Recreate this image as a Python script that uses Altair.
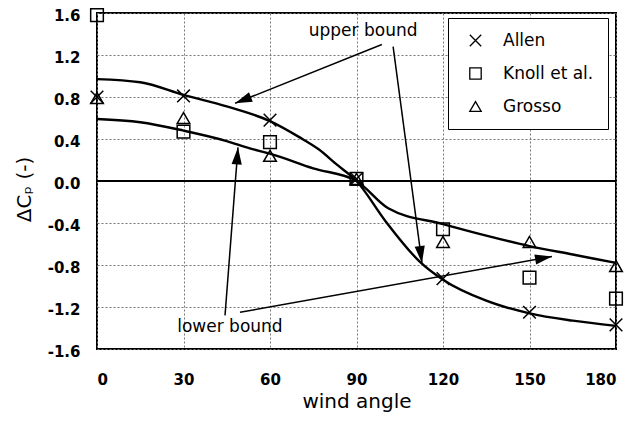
import math
import altair as alt
import pandas as pd

# ---- data ----
angles = [0, 30, 60, 90, 120, 150, 180]
allen = [0.80, 0.81, 0.58, 0.02, -0.93, -1.25, -1.37]
knoll = [1.58, 0.47, 0.37, 0.02, -0.46, -0.92, -1.12]
grosso = [0.79, 0.60, 0.24, 0.02, -0.58, -0.58, -0.81]
series_names = ["Allen", "Knoll et al.", "Grosso"]

upper_x = [0, 15, 30, 45, 60, 70, 77, 83, 90, 100, 112, 120, 135, 150, 165, 180]
upper_y = [0.97, 0.94, 0.82, 0.71, 0.57, 0.42, 0.30, 0.16, 0.0, -0.38, -0.77, -0.94, -1.14, -1.26, -1.33, -1.38]
lower_x = [0, 15, 30, 45, 53, 60, 75, 90, 101, 120, 135, 150, 165, 180]
lower_y = [0.59, 0.56, 0.48, 0.38, 0.31, 0.26, 0.12, 0.0, -0.26, -0.41, -0.52, -0.62, -0.70, -0.78]

label_text = ["upper bound", "lower bound"]
label_x = [92.3, 46.1]
label_y = [1.43, -1.39]

arrow_x1 = [98.8, 102.7, 44.4, 49.6]
arrow_y1 = [1.30, 1.28, -1.28, -1.25]
arrow_x2 = [47.9, 112.7, 48.9, 157.8]
arrow_y2 = [0.74, -0.78, 0.32, -0.72]

y_ticks = [-1.6, -1.2, -0.8, -0.4, 0.0, 0.4, 0.8, 1.2, 1.6]

# ---- layout ----
W, H = 519, 336
FONT = "DejaVu Sans"
XPATH = "M-1,-1L1,1M-1,1L1,-1"
HEAD = "M0,0L0.3,1L-0.3,1Z"

pts = pd.DataFrame(
    [{"x": a, "y": v, "series": s}
     for s, vals in zip(series_names, [allen, knoll, grosso])
     for a, v in zip(angles, vals)]
)
curves = pd.concat([
    pd.DataFrame({"x": upper_x, "y": upper_y, "curve": "upper"}),
    pd.DataFrame({"x": lower_x, "y": lower_y, "curve": "lower"}),
])
labels = pd.DataFrame({"x": label_x, "y": label_y, "t": label_text})

px_per_x = W / 180.0
px_per_y = H / 3.2
angs = []
for x1, y1, x2, y2 in zip(arrow_x1, arrow_y1, arrow_x2, arrow_y2):
    dxs = (x2 - x1) * px_per_x
    dys = -(y2 - y1) * px_per_y
    angs.append(math.degrees(math.atan2(dxs, -dys)) % 360)
arrows = pd.DataFrame({"x": arrow_x1, "y": arrow_y1, "x2": arrow_x2, "y2": arrow_y2, "ang": angs})


def xenc(field):
    return alt.X(
        f"{field}:Q",
        scale=alt.Scale(domain=[0, 180], nice=False, zero=False),
        axis=alt.Axis(
            values=angles, title="wind angle", grid=True, ticks=False, tickSize=0,
            domain=False, labelPadding=23, titleY=52, titleBaseline="middle",
        ),
    )


def yenc(field):
    return alt.Y(
        f"{field}:Q",
        scale=alt.Scale(domain=[-1.6, 1.6], nice=False, zero=False),
        axis=alt.Axis(
            values=y_ticks, title="ΔCₚ (-)", grid=True, ticks=False, tickSize=0,
            domain=False, labelPadding=17, labelOffset=2,
            labelExpr="replace(format(datum.value, '.1f'), '\u2212', '-')",
            titleX=-73, titleY=176, titleAlign="center", titleBaseline="middle",
        ),
    )


zero = alt.Chart(pts).mark_rule(color="black", strokeWidth=2).encode(y=alt.datum(0))

lines = alt.Chart(curves).mark_line(
    color="black", strokeWidth=2.4, interpolate="monotone"
).encode(x=xenc("x"), y=yenc("y"), detail="curve:N")

points = alt.Chart(pts).mark_point(
    filled=False, size=160, strokeWidth=1.5, color="black", opacity=1
).encode(
    x=xenc("x"), y=yenc("y"),
    shape=alt.Shape(
        "series:N",
        scale=alt.Scale(domain=series_names, range=[XPATH, "square", "triangle-up"]),
        legend=alt.Legend(
            title=None, orient="none", legendX=351, legendY=5,
            fillColor="white", strokeColor="black", padding=14, rowPadding=15,
            symbolSize=130, symbolStrokeWidth=1.3, symbolStrokeColor="black",
            symbolFillColor="transparent", symbolOffset=5,
            labelFont=FONT, labelFontSize=17, labelColor="black", labelOffset=19,
            labelExpr="datum.label + ' '",
        ),
    ),
)

rules = alt.Chart(arrows).mark_rule(color="black", strokeWidth=1.5).encode(
    x=xenc("x"), y=yenc("y"), x2="x2:Q", y2="y2:Q"
)
heads = alt.Chart(arrows).mark_point(
    shape=HEAD, filled=True, size=1156, color="black", opacity=1, strokeWidth=0
).encode(x=xenc("x2"), y=yenc("y2"), angle=alt.Angle("ang:Q", scale=None))

texts = alt.Chart(labels).mark_text(
    font=FONT, fontSize=17, color="black", align="center", baseline="middle"
).encode(x=xenc("x"), y=yenc("y"), text="t:N")

chart = alt.layer(zero, lines, rules, heads, points, texts).properties(
    width=W, height=H,
    autosize=alt.AutoSizeParams(type="none"),
    padding={"left": 89, "top": 5, "right": 13, "bottom": 65},
    background="white",
).configure_view(
    stroke="black", strokeWidth=2
).configure_axis(
    labelFont=FONT, labelFontSize=15, labelFontWeight="bold", labelColor="black",
    titleFont=FONT, titleFontSize=20, titleFontWeight="normal", titleColor="black",
    gridColor="#777777", gridDash=[2, 2], gridWidth=1, gridOpacity=1,
)

chart.save("out.html", embed_options={"renderer": "svg", "actions": False})
